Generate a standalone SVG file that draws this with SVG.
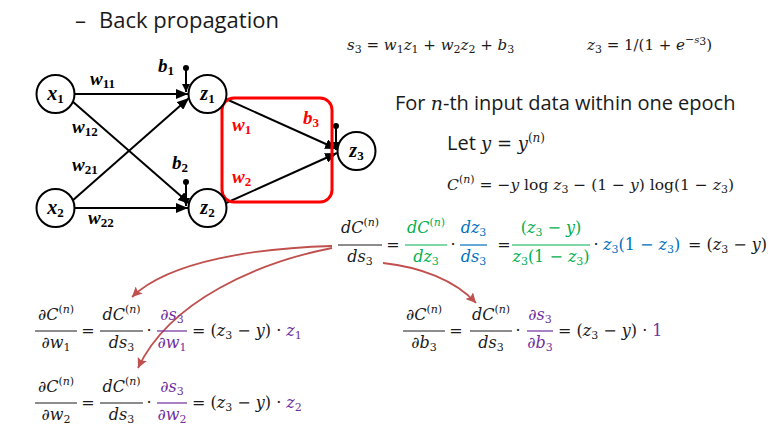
<svg xmlns="http://www.w3.org/2000/svg" width="781" height="434" viewBox="0 0 781 434">
<style>
.sans{font-family:"Open Sans","Noto Sans",sans-serif;fill:#1a1a1a}
.m{font-family:"DejaVu Serif",serif;font-style:italic;fill:#1a1a1a}
.u{font-style:normal}
.sb{font-size:11px;font-style:normal}
.sp{font-size:11px;font-style:normal}
.sp.i{font-style:italic}
.node{fill:#fff;stroke:#000;stroke-width:2}
.lbl{font-family:"Liberation Serif",serif;font-style:italic;font-weight:bold;fill:#000}
.red{fill:#ff0000}
.edge{stroke:#000;stroke-width:2;fill:none}
.fl{stroke:#1a1a1a;stroke-width:1.2}
.g{fill:#00b050}
.b{fill:#0070c0}
.p{fill:#7030a0}
.arr{stroke:#c0504d;stroke-width:1.8;fill:none}
</style>
<defs>
<marker id="ah" markerUnits="userSpaceOnUse" markerWidth="13" markerHeight="10" refX="12" refY="5" orient="auto"><path d="M0,0 L12,5 L0,10 z" fill="#000"/></marker>
<marker id="bh" markerUnits="userSpaceOnUse" markerWidth="9" markerHeight="8" refX="8" refY="4" orient="auto"><path d="M0,0 L8,4 L0,8 z" fill="#000"/></marker>
<marker id="rh" markerUnits="userSpaceOnUse" markerWidth="12" markerHeight="10" refX="10" refY="5" orient="auto"><path d="M0,0 L10,5 L0,10 L2,5 z" fill="#c0504d"/></marker>
</defs>
<rect width="781" height="434" fill="#fff"/>

<g id="title">
<text class="sans" x="75" y="28" font-size="22">–</text>
<text class="sans" x="99" y="28" font-size="22">Back propagation</text>
</g>

<g id="connectors">
<line class="edge" x1="74" y1="94" x2="188" y2="94" marker-end="url(#ah)"/>
<line class="edge" x1="72" y1="101" x2="190" y2="204" marker-end="url(#ah)"/>
<line class="edge" x1="72" y1="201" x2="189" y2="98" marker-end="url(#ah)"/>
<line class="edge" x1="74" y1="208" x2="188" y2="208" marker-end="url(#ah)"/>
<line class="edge" x1="226" y1="99" x2="337" y2="149" marker-end="url(#ah)"/>
<line class="edge" x1="226" y1="203" x2="337" y2="153" marker-end="url(#ah)"/>
<line class="edge" x1="186" y1="68" x2="186" y2="92" marker-end="url(#bh)"/>
<line class="edge" x1="186" y1="182" x2="186" y2="206" marker-end="url(#bh)"/>
<line class="edge" x1="336" y1="126" x2="336" y2="150" marker-end="url(#bh)"/>
<circle cx="186" cy="68" r="3" fill="#000"/>
<circle cx="186" cy="182" r="3" fill="#000"/>
<circle cx="336" cy="126" r="3" fill="#000"/>
<rect x="222" y="98" width="110" height="104" rx="12" fill="none" stroke="#ff0000" stroke-width="3"/>
</g>

<g id="x1"><circle class="node" cx="55.5" cy="94" r="19"/><text class="lbl" x="55.5" y="100" font-size="20" text-anchor="middle">x<tspan dy="3" font-size="13" font-style="normal">1</tspan></text></g>
<g id="x2"><circle class="node" cx="55.5" cy="208" r="19"/><text class="lbl" x="55.5" y="214" font-size="20" text-anchor="middle">x<tspan dy="3" font-size="13" font-style="normal">2</tspan></text></g>
<g id="z1"><circle class="node" cx="207.5" cy="94" r="19"/><text class="lbl" x="207.5" y="100" font-size="20" text-anchor="middle">z<tspan dy="3" font-size="13" font-style="normal">1</tspan></text></g>
<g id="z2"><circle class="node" cx="207.5" cy="208" r="19"/><text class="lbl" x="207.5" y="214" font-size="20" text-anchor="middle">z<tspan dy="3" font-size="13" font-style="normal">2</tspan></text></g>
<g id="z3"><circle class="node" cx="356.5" cy="151" r="19"/><text class="lbl" x="356.5" y="157" font-size="20" text-anchor="middle">z<tspan dy="3" font-size="13" font-style="normal">3</tspan></text></g>

<g id="edge-labels">
<text class="lbl" x="90" y="85" font-size="19">w<tspan dy="3" font-size="13" font-style="normal">11</tspan></text>
<text class="lbl" x="72" y="133" font-size="19">w<tspan dy="3" font-size="13" font-style="normal">12</tspan></text>
<text class="lbl" x="72" y="171" font-size="19">w<tspan dy="3" font-size="13" font-style="normal">21</tspan></text>
<text class="lbl" x="88" y="224" font-size="19">w<tspan dy="3" font-size="13" font-style="normal">22</tspan></text>
<text class="lbl" x="158" y="72" font-size="19">b<tspan dy="3" font-size="13" font-style="normal">1</tspan></text>
<text class="lbl" x="172" y="169" font-size="19">b<tspan dy="3" font-size="13" font-style="normal">2</tspan></text>
<text class="lbl red" x="232" y="131" font-size="19">w<tspan dy="3" font-size="13" font-style="normal">1</tspan></text>
<text class="lbl red" x="232" y="183" font-size="19">w<tspan dy="3" font-size="13" font-style="normal">2</tspan></text>
<text class="lbl red" x="303" y="124" font-size="19">b<tspan dy="3" font-size="13" font-style="normal">3</tspan></text>
</g>

<g id="top-eqs" font-size="15">
<text class="m" x="347" y="50">s<tspan class="sb" font-size="10" dy="3">3</tspan><tspan class="u" dy="-3"> = </tspan>w<tspan class="sb" font-size="10" dy="3">1</tspan><tspan dy="-3">z</tspan><tspan class="sb" font-size="10" dy="3">1</tspan><tspan class="u" dy="-3"> + </tspan>w<tspan class="sb" font-size="10" dy="3">2</tspan><tspan dy="-3">z</tspan><tspan class="sb" font-size="10" dy="3">2</tspan><tspan class="u" dy="-3"> + </tspan>b<tspan class="sb" font-size="10" dy="3">3</tspan></text>
<text class="m" x="587" y="50">z<tspan class="sb" font-size="10" dy="3">3</tspan><tspan class="u" dy="-3"> = 1/(1 + </tspan>e<tspan class="sb" font-size="10" dy="-7">−</tspan><tspan font-size="10">s</tspan><tspan class="sb" font-size="7" dy="2">3</tspan><tspan class="u" dy="5">)</tspan></text>
</g>

<g id="epoch-text">
<text class="sans" x="395" y="110" font-size="20">For <tspan class="m" font-size="19">n</tspan>-th input data within one epoch</text>
<text class="sans" x="447" y="150" font-size="20">Let <tspan class="m" font-size="18">y</tspan><tspan class="m u" font-size="18"> = </tspan><tspan class="m" font-size="18">y</tspan><tspan class="m u" font-size="12" dy="-8">(</tspan><tspan class="m" font-size="12">n</tspan><tspan class="m u" font-size="12">)</tspan></text>
<text class="m" x="447" y="190" font-size="15.5">C<tspan class="sp" dy="-7">(</tspan><tspan class="sp i">n</tspan><tspan class="sp">)</tspan><tspan class="u" dy="7"> = −</tspan>y<tspan class="u"> log </tspan>z<tspan class="sb" dy="3">3</tspan><tspan class="u" dy="-3"> − (1 − </tspan>y<tspan class="u">) log(1 − </tspan>z<tspan class="sb" dy="3">3</tspan><tspan class="u" dy="-3">)</tspan></text>
</g>

<g id="chain-eq" font-size="16">
<text class="m" x="360" y="233" text-anchor="middle">dC<tspan class="sp" dy="-7">(</tspan><tspan class="sp i">n</tspan><tspan class="sp">)</tspan></text>
<line class="fl" x1="338" y1="245" x2="382" y2="245"/>
<text class="m" x="360" y="262" text-anchor="middle">ds<tspan class="sb" dy="3">3</tspan></text>
<text class="m u" x="393" y="250" text-anchor="middle">=</text>
<text class="m g" x="426" y="233" text-anchor="middle">dC<tspan class="sp" dy="-7">(</tspan><tspan class="sp i">n</tspan><tspan class="sp">)</tspan></text>
<line x1="405" y1="245" x2="447" y2="245" stroke="#00b050" stroke-width="1.2"/>
<text class="m g" x="426" y="262" text-anchor="middle">dz<tspan class="sb" dy="3">3</tspan></text>
<text class="m u" x="453" y="250" text-anchor="middle">·</text>
<text class="m b" x="473.5" y="233" text-anchor="middle">dz<tspan class="sb" dy="3">3</tspan></text>
<line x1="460" y1="245" x2="487" y2="245" stroke="#0070c0" stroke-width="1.2"/>
<text class="m b" x="473.5" y="262" text-anchor="middle">ds<tspan class="sb" dy="3">3</tspan></text>
<text class="m u" x="504" y="250" text-anchor="middle">=</text>
<text class="m g" x="551" y="233" text-anchor="middle"><tspan class="u">(</tspan>z<tspan class="sb" dy="3">3</tspan><tspan class="u" dy="-3"> − </tspan>y<tspan class="u">)</tspan></text>
<line x1="512" y1="245" x2="590" y2="245" stroke="#00b050" stroke-width="1.2"/>
<text class="m g" x="551" y="262" text-anchor="middle">z<tspan class="sb" dy="3">3</tspan><tspan class="u" dy="-3">(1 − </tspan>z<tspan class="sb" dy="3">3</tspan><tspan class="u" dy="-3">)</tspan></text>
<text class="m u" x="596" y="250" text-anchor="middle">·</text>
<text class="m b" x="603" y="250">z<tspan class="sb" dy="3">3</tspan><tspan class="u" dy="-3">(1 − </tspan>z<tspan class="sb" dy="3">3</tspan><tspan class="u" dy="-3">)</tspan></text>
<text class="m" x="688" y="250"><tspan class="u">= (</tspan>z<tspan class="sb" dy="3">3</tspan><tspan class="u" dy="-3"> − </tspan>y<tspan class="u">)</tspan></text>
</g>

<g id="arrows">
<path class="arr" d="M332,246 C260,248 170,260 132,297" marker-end="url(#rh)"/>
<path class="arr" d="M332,248 C260,262 170,300 138,368" marker-end="url(#rh)"/>
<path class="arr" d="M383,263 C420,267 455,280 476,303" marker-end="url(#rh)"/>
</g>

<g id="eq-w1" font-size="16">
<text class="m" x="56" y="320" text-anchor="middle"><tspan class="u">∂</tspan>C<tspan class="sp" dy="-7">(</tspan><tspan class="sp i">n</tspan><tspan class="sp">)</tspan></text>
<line class="fl" x1="35" y1="331" x2="77" y2="331"/>
<text class="m" x="56" y="348" text-anchor="middle"><tspan class="u">∂</tspan>w<tspan class="sb" dy="3">1</tspan></text>
<text class="m u" x="88" y="336" text-anchor="middle">=</text>
<text class="m" x="121.5" y="320" text-anchor="middle">dC<tspan class="sp" dy="-7">(</tspan><tspan class="sp i">n</tspan><tspan class="sp">)</tspan></text>
<line class="fl" x1="100" y1="331" x2="143" y2="331"/>
<text class="m" x="121.5" y="348" text-anchor="middle">ds<tspan class="sb" dy="3">3</tspan></text>
<text class="m u" x="149" y="336" text-anchor="middle">·</text>
<text class="m p" x="172" y="320" text-anchor="middle"><tspan class="u">∂</tspan>s<tspan class="sb" dy="3">3</tspan></text>
<line x1="157" y1="331" x2="187" y2="331" stroke="#7030a0" stroke-width="1.2"/>
<text class="m p" x="172" y="348" text-anchor="middle"><tspan class="u">∂</tspan>w<tspan class="sb" dy="3">1</tspan></text>
<text class="m" x="192" y="336"><tspan class="u">= (</tspan>z<tspan class="sb" dy="3">3</tspan><tspan class="u" dy="-3"> − </tspan>y<tspan class="u">) · </tspan><tspan class="p">z</tspan><tspan class="sb p" dy="3">1</tspan></text>
</g>

<g id="eq-w2" font-size="16">
<text class="m" x="56" y="392" text-anchor="middle"><tspan class="u">∂</tspan>C<tspan class="sp" dy="-7">(</tspan><tspan class="sp i">n</tspan><tspan class="sp">)</tspan></text>
<line class="fl" x1="35" y1="403" x2="77" y2="403"/>
<text class="m" x="56" y="420" text-anchor="middle"><tspan class="u">∂</tspan>w<tspan class="sb" dy="3">2</tspan></text>
<text class="m u" x="88" y="408" text-anchor="middle">=</text>
<text class="m" x="121.5" y="392" text-anchor="middle">dC<tspan class="sp" dy="-7">(</tspan><tspan class="sp i">n</tspan><tspan class="sp">)</tspan></text>
<line class="fl" x1="100" y1="403" x2="143" y2="403"/>
<text class="m" x="121.5" y="420" text-anchor="middle">ds<tspan class="sb" dy="3">3</tspan></text>
<text class="m u" x="149" y="408" text-anchor="middle">·</text>
<text class="m p" x="172" y="392" text-anchor="middle"><tspan class="u">∂</tspan>s<tspan class="sb" dy="3">3</tspan></text>
<line x1="157" y1="403" x2="187" y2="403" stroke="#7030a0" stroke-width="1.2"/>
<text class="m p" x="172" y="420" text-anchor="middle"><tspan class="u">∂</tspan>w<tspan class="sb" dy="3">2</tspan></text>
<text class="m" x="192" y="408"><tspan class="u">= (</tspan>z<tspan class="sb" dy="3">3</tspan><tspan class="u" dy="-3"> − </tspan>y<tspan class="u">) · </tspan><tspan class="p">z</tspan><tspan class="sb p" dy="3">2</tspan></text>
</g>

<g id="eq-b3" font-size="16">
<text class="m" x="424" y="320" text-anchor="middle"><tspan class="u">∂</tspan>C<tspan class="sp" dy="-7">(</tspan><tspan class="sp i">n</tspan><tspan class="sp">)</tspan></text>
<line class="fl" x1="403" y1="331" x2="445" y2="331"/>
<text class="m" x="424" y="348" text-anchor="middle"><tspan class="u">∂</tspan>b<tspan class="sb" dy="3">3</tspan></text>
<text class="m u" x="456" y="336" text-anchor="middle">=</text>
<text class="m" x="491" y="320" text-anchor="middle">dC<tspan class="sp" dy="-7">(</tspan><tspan class="sp i">n</tspan><tspan class="sp">)</tspan></text>
<line class="fl" x1="470" y1="331" x2="512" y2="331"/>
<text class="m" x="491" y="348" text-anchor="middle">ds<tspan class="sb" dy="3">3</tspan></text>
<text class="m u" x="518" y="336" text-anchor="middle">·</text>
<text class="m p" x="540" y="320" text-anchor="middle"><tspan class="u">∂</tspan>s<tspan class="sb" dy="3">3</tspan></text>
<line x1="527" y1="331" x2="553" y2="331" stroke="#7030a0" stroke-width="1.2"/>
<text class="m p" x="540" y="348" text-anchor="middle"><tspan class="u">∂</tspan>b<tspan class="sb" dy="3">3</tspan></text>
<text class="m" x="558" y="336"><tspan class="u">= (</tspan>z<tspan class="sb" dy="3">3</tspan><tspan class="u" dy="-3"> − </tspan>y<tspan class="u">) · </tspan><tspan class="u p">1</tspan></text>
</g>
</svg>
